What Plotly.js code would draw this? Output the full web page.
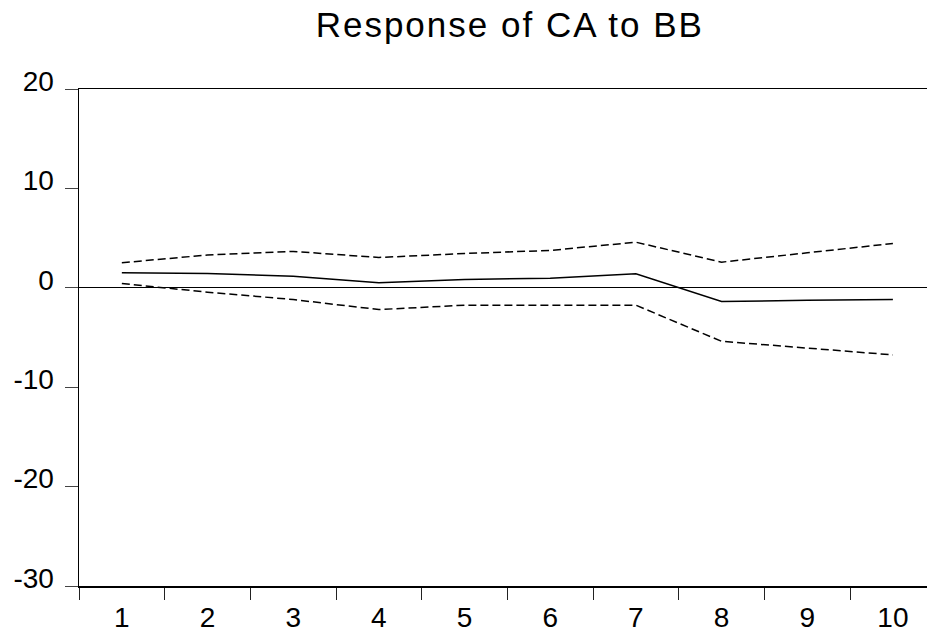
<!DOCTYPE html>
<html>
<head>
<meta charset="utf-8">
<script src="https://cdn.plot.ly/plotly-3.0.1.min.js"></script>
<style>
  html, body { margin: 0; padding: 0; background: #fff; }
  #plot { width: 927px; height: 634px; }
  #plot .gtitle { letter-spacing: 2px; }
</style>
</head>
<body>
<div id="plot"></div>
<script>
const periods = ["1","2","3","4","5","6","7","8","9","10"];
const response = [1.51, 1.44, 1.17, 0.50, 0.84, 0.97, 1.41, -1.38, -1.25, -1.18];
const upperBand = [2.52, 3.30, 3.66, 3.05, 3.45, 3.76, 4.59, 2.58, 3.52, 4.46];
const lowerBand = [0.43, -0.44, -1.18, -2.19, -1.75, -1.78, -1.75, -5.38, -6.04, -6.75];
const yTicks = [-30, -20, -10, 0, 10, 20];
const chartTitle = "Response of CA to BB";

const fontFam = "Liberation Sans, Arial, sans-serif";

const traces = [
  { x: periods, y: response, type: "scatter", mode: "lines",
    line: { color: "#000", width: 1.5 }, hoverinfo: "skip" },
  { x: periods, y: upperBand, type: "scatter", mode: "lines",
    line: { color: "#000", width: 1.5, dash: "8px,4px" }, hoverinfo: "skip" },
  { x: periods, y: lowerBand, type: "scatter", mode: "lines",
    line: { color: "#000", width: 1.5, dash: "8px,4px" }, hoverinfo: "skip" }
];

const layout = {
  width: 927, height: 634,
  margin: { l: 79, r: 0, t: 89, b: 48, pad: 0 },
  paper_bgcolor: "#fff", plot_bgcolor: "#fff",
  showlegend: false,
  font: { family: fontFam, size: 28, color: "#000" },
  title: {
    text: chartTitle,
    font: { family: fontFam, size: 35, color: "#000" },
    xref: "paper", x: 0.508, xanchor: "center",
    yref: "container", y: 1 - 24.5 / 634, yanchor: "middle"
  },
  xaxis: {
    type: "category",
    categoryorder: "array", categoryarray: periods,
    range: [-0.5, 9.398],
    tickson: "boundaries",
    ticks: "outside", ticklen: 12, tickwidth: 1, tickcolor: "#222",
    showline: true, linecolor: "#000", linewidth: 1.5, mirror: true,
    showgrid: false, zeroline: false,
    ticklabelstandoff: 6,
    tickfont: { family: fontFam, size: 28, color: "#000" },
    fixedrange: true
  },
  yaxis: {
    range: [-30, 20],
    tickmode: "array", tickvals: yTicks, ticktext: yTicks.map(String),
    ticks: "outside", ticklen: 13, tickwidth: 1, tickcolor: "#444",
    showline: true, linecolor: "#000", linewidth: 1.5, mirror: false,
    showgrid: false,
    zeroline: true, zerolinecolor: "#000", zerolinewidth: 1,
    ticklabelstandoff: 5,
    ticklabelshift: -8,
    tickfont: { family: fontFam, size: 28, color: "#000" },
    fixedrange: true
  }
};

Plotly.newPlot("plot", traces, layout, { displayModeBar: false, staticPlot: true });
</script>
</body>
</html>
